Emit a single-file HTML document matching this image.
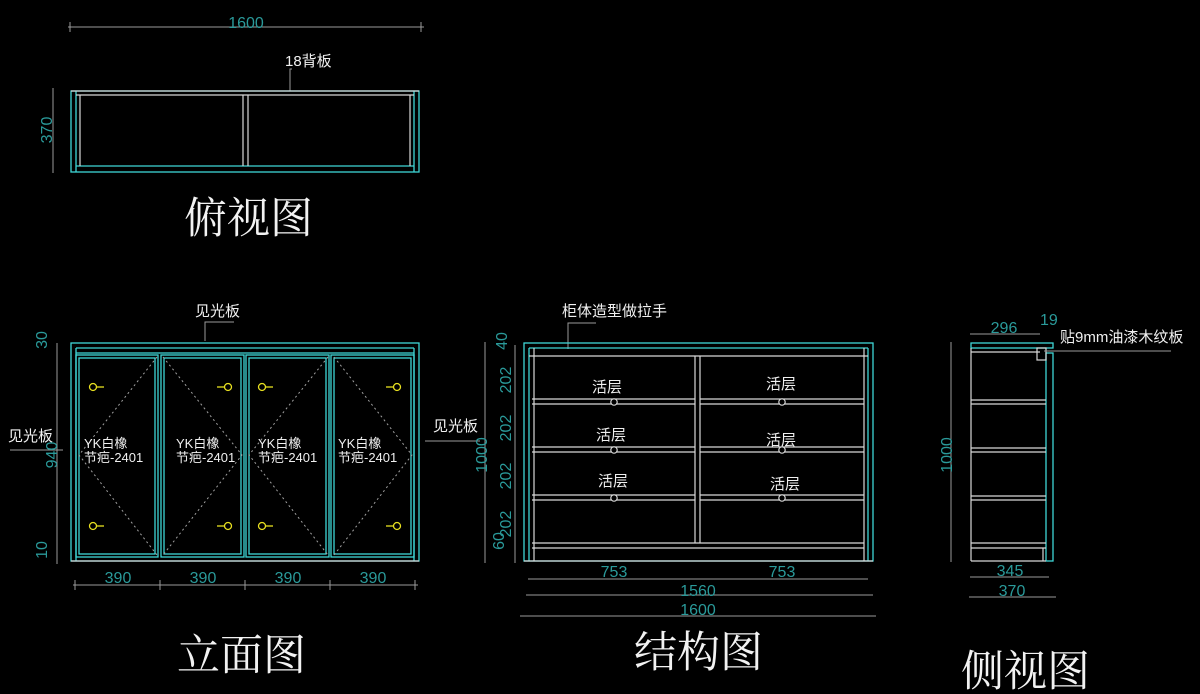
<!DOCTYPE html>
<html><head><meta charset="utf-8"><style>
html,body{margin:0;padding:0;background:#000;}
svg{display:block;}
.c{stroke:#3fd6d6;fill:none;stroke-width:1.3}
.w{stroke:#d8d8d8;fill:none;stroke-width:1.2}
.g{stroke:#9a9a9a;fill:none;stroke-width:1}
.d{fill:#2a9a9a;font-family:"Liberation Sans Narrow","Liberation Sans",sans-serif;font-size:16px}
.t{fill:#f0f0f0;font-family:"Liberation Sans","Noto Sans CJK SC",sans-serif;font-size:15px}
.ti{fill:#f2f2f2;font-family:"Noto Serif CJK SC","Liberation Serif",serif;font-size:43px}
.y{stroke:#e8e020;fill:none;stroke-width:1.3}
.dash{stroke:#a0a0a0;stroke-dasharray:2 3;fill:none;stroke-width:1}
</style></head><body>
<svg width="1200" height="694" viewBox="0 0 1200 694" xmlns="http://www.w3.org/2000/svg">
<!-- TOP VIEW -->
<line class="g" x1="68" y1="27" x2="424" y2="27"/>
<line class="g" x1="70" y1="22" x2="70" y2="32"/><line class="g" x1="421" y1="22" x2="421" y2="32"/>
<text class="d" x="246" y="28" text-anchor="middle">1600</text>
<text class="t" x="285" y="66">18背板</text>
<polyline class="g" points="292,69 290,69 290,91"/>
<rect class="c" x="71" y="91" width="348" height="81"/>
<line class="c" x1="76" y1="91" x2="76" y2="172"/><line class="c" x1="414" y1="91" x2="414" y2="172"/>
<line class="c" x1="76" y1="166" x2="414" y2="166"/>
<line class="w" x1="71" y1="91" x2="419" y2="91"/>
<line class="w" x1="76" y1="95" x2="414" y2="95"/>
<line class="w" x1="80" y1="95" x2="80" y2="166"/><line class="w" x1="410" y1="95" x2="410" y2="166"/>
<line class="w" x1="243" y1="95" x2="243" y2="166"/><line class="w" x1="248" y1="95" x2="248" y2="166"/>
<line class="g" x1="53" y1="88" x2="53" y2="173"/>
<text class="d" transform="translate(52,130) rotate(-90)" text-anchor="middle">370</text>
<text class="ti" x="184" y="233">俯视图</text>

<!-- ELEVATION -->
<text class="t" x="195" y="316">见光板</text>
<polyline class="g" points="234,322 205,322 205,341"/>
<rect class="c" x="71" y="343" width="348" height="218"/>
<line class="c" x1="76" y1="348" x2="414" y2="348"/>
<line class="c" x1="76" y1="348" x2="76" y2="561"/><line class="c" x1="414" y1="348" x2="414" y2="561"/>
<line class="c" x1="76" y1="353" x2="414" y2="353"/>
<line class="w" x1="71" y1="561" x2="419" y2="561"/>
<g>
<rect class="c" x="76" y="355" width="82" height="202"/><rect class="c" x="79" y="358" width="76" height="196"/>
<rect class="c" x="161" y="355" width="83" height="202"/><rect class="c" x="164" y="358" width="77" height="196"/>
<rect class="c" x="246" y="355" width="83" height="202"/><rect class="c" x="249" y="358" width="77" height="196"/>
<rect class="c" x="331" y="355" width="83" height="202"/><rect class="c" x="334" y="358" width="77" height="196"/>
</g>
<polyline class="dash" points="157,357 79,455 157,555"/>
<polyline class="dash" points="163,357 242,455 163,555"/>
<polyline class="dash" points="328,357 249,455 328,555"/>
<polyline class="dash" points="334,357 412,455 334,555"/>
<g>
<circle class="y" cx="93" cy="387" r="3.5"/><line class="y" x1="96" y1="387" x2="104" y2="387"/>
<circle class="y" cx="93" cy="526" r="3.5"/><line class="y" x1="96" y1="526" x2="104" y2="526"/>
<circle class="y" cx="228" cy="387" r="3.5"/><line class="y" x1="217" y1="387" x2="225" y2="387"/>
<circle class="y" cx="228" cy="526" r="3.5"/><line class="y" x1="217" y1="526" x2="225" y2="526"/>
<circle class="y" cx="262" cy="387" r="3.5"/><line class="y" x1="265" y1="387" x2="273" y2="387"/>
<circle class="y" cx="262" cy="526" r="3.5"/><line class="y" x1="265" y1="526" x2="273" y2="526"/>
<circle class="y" cx="397" cy="387" r="3.5"/><line class="y" x1="386" y1="387" x2="394" y2="387"/>
<circle class="y" cx="397" cy="526" r="3.5"/><line class="y" x1="386" y1="526" x2="394" y2="526"/>
</g>
<g class="t" style="font-size:13px">
<text x="84" y="448">YK白橡</text><text x="84" y="462">节疤-2401</text>
<text x="176" y="448">YK白橡</text><text x="176" y="462">节疤-2401</text>
<text x="258" y="448">YK白橡</text><text x="258" y="462">节疤-2401</text>
<text x="338" y="448">YK白橡</text><text x="338" y="462">节疤-2401</text>
</g>
<text class="t" x="8" y="441">见光板</text>
<line class="g" x1="10" y1="450" x2="63" y2="450"/>
<text class="t" x="433" y="431">见光板</text>
<line class="g" x1="425" y1="441" x2="480" y2="441"/>
<line class="g" x1="57" y1="343" x2="57" y2="564"/>
<text class="d" transform="translate(47,340) rotate(-90)" text-anchor="middle">30</text>
<text class="d" transform="translate(57,455) rotate(-90)" text-anchor="middle">940</text>
<text class="d" transform="translate(47,550) rotate(-90)" text-anchor="middle">10</text>
<line class="g" x1="73" y1="585" x2="418" y2="585"/>
<line class="g" x1="75" y1="580" x2="75" y2="590"/><line class="g" x1="160" y1="580" x2="160" y2="590"/>
<line class="g" x1="245" y1="580" x2="245" y2="590"/><line class="g" x1="330" y1="580" x2="330" y2="590"/><line class="g" x1="415" y1="580" x2="415" y2="590"/>
<text class="d" x="118" y="583" text-anchor="middle">390</text>
<text class="d" x="203" y="583" text-anchor="middle">390</text>
<text class="d" x="288" y="583" text-anchor="middle">390</text>
<text class="d" x="373" y="583" text-anchor="middle">390</text>
<text class="ti" x="177" y="670">立面图</text>

<!-- STRUCTURE -->
<text class="t" x="562" y="316">柜体造型做拉手</text>
<polyline class="g" points="596,323 568,323 568,349"/>
<rect class="c" x="524" y="343" width="349" height="218"/>
<line class="c" x1="529" y1="348" x2="868" y2="348"/>
<line class="c" x1="529" y1="348" x2="529" y2="561"/><line class="c" x1="868" y1="348" x2="868" y2="561"/>
<line class="w" x1="534" y1="348" x2="534" y2="561"/><line class="w" x1="864" y1="348" x2="864" y2="561"/>
<line class="w" x1="529" y1="356" x2="868" y2="356"/>
<line class="w" x1="695" y1="356" x2="695" y2="543"/><line class="w" x1="700" y1="356" x2="700" y2="543"/>
<g class="w">
<line x1="532" y1="399" x2="695" y2="399"/><line x1="532" y1="404" x2="695" y2="404"/>
<line x1="700" y1="399" x2="864" y2="399"/><line x1="700" y1="404" x2="864" y2="404"/>
<line x1="532" y1="447" x2="695" y2="447"/><line x1="532" y1="452" x2="695" y2="452"/>
<line x1="700" y1="447" x2="864" y2="447"/><line x1="700" y1="452" x2="864" y2="452"/>
<line x1="532" y1="495" x2="695" y2="495"/><line x1="532" y1="500" x2="695" y2="500"/>
<line x1="700" y1="495" x2="864" y2="495"/><line x1="700" y1="500" x2="864" y2="500"/>
<line x1="532" y1="543" x2="864" y2="543"/><line x1="532" y1="548" x2="864" y2="548"/>
<line x1="524" y1="561" x2="873" y2="561"/>
<circle cx="614" cy="402" r="3.2" style="fill:#000"/><circle cx="782" cy="402" r="3.2" style="fill:#000"/>
<circle cx="614" cy="450" r="3.2" style="fill:#000"/><circle cx="782" cy="450" r="3.2" style="fill:#000"/>
<circle cx="614" cy="498" r="3.2" style="fill:#000"/><circle cx="782" cy="498" r="3.2" style="fill:#000"/>
</g>
<g class="t">
<text x="592" y="392">活层</text><text x="766" y="389">活层</text>
<text x="596" y="440">活层</text><text x="766" y="445">活层</text>
<text x="598" y="486">活层</text><text x="770" y="489">活层</text>
</g>
<line class="g" x1="485" y1="342" x2="485" y2="563"/>
<text class="d" transform="translate(487,455) rotate(-90)" text-anchor="middle">1000</text>
<line class="g" x1="515" y1="345" x2="515" y2="563"/>
<text class="d" transform="translate(507,341) rotate(-90)" text-anchor="middle">40</text>
<text class="d" transform="translate(511,380) rotate(-90)" text-anchor="middle">202</text>
<text class="d" transform="translate(511,428) rotate(-90)" text-anchor="middle">202</text>
<text class="d" transform="translate(511,476) rotate(-90)" text-anchor="middle">202</text>
<text class="d" transform="translate(511,524) rotate(-90)" text-anchor="middle">202</text>
<text class="d" transform="translate(504,541) rotate(-90)" text-anchor="middle">60</text>
<line class="g" x1="528" y1="579" x2="868" y2="579"/>
<text class="d" x="614" y="577" text-anchor="middle">753</text>
<text class="d" x="782" y="577" text-anchor="middle">753</text>
<line class="g" x1="526" y1="595" x2="873" y2="595"/>
<text class="d" x="698" y="596" text-anchor="middle">1560</text>
<line class="g" x1="520" y1="616" x2="876" y2="616"/>
<text class="d" x="698" y="615" text-anchor="middle">1600</text>
<text class="ti" x="634" y="667">结构图</text>

<!-- SIDE -->
<rect class="c" x="971" y="343" width="82" height="5"/>
<rect class="c" x="1046" y="353" width="7" height="208"/>
<g class="w">
<line x1="971" y1="348" x2="971" y2="561"/><line x1="971" y1="561" x2="1046" y2="561"/>
<line x1="971" y1="352" x2="1040" y2="352"/>
<rect x="1037" y="348" width="9" height="12"/>
<line x1="971" y1="400" x2="1046" y2="400"/><line x1="971" y1="404" x2="1046" y2="404"/>
<line x1="971" y1="448" x2="1046" y2="448"/><line x1="971" y1="452" x2="1046" y2="452"/>
<line x1="971" y1="496" x2="1046" y2="496"/><line x1="971" y1="500" x2="1046" y2="500"/>
<line x1="971" y1="543" x2="1046" y2="543"/><line x1="971" y1="548" x2="1046" y2="548"/>
<line x1="1043" y1="548" x2="1043" y2="561"/>
</g>
<line class="g" x1="970" y1="334" x2="1040" y2="334"/>
<text class="d" x="1004" y="333" text-anchor="middle">296</text>
<text class="d" x="1040" y="325">19</text>
<text class="t" x="1060" y="342">贴9mm油漆木纹板</text>
<line class="g" x1="1044" y1="351" x2="1171" y2="351"/>
<line class="g" x1="951" y1="342" x2="951" y2="562"/>
<text class="d" transform="translate(952,455) rotate(-90)" text-anchor="middle">1000</text>
<line class="g" x1="970" y1="577" x2="1049" y2="577"/>
<text class="d" x="1010" y="576" text-anchor="middle">345</text>
<line class="g" x1="969" y1="597" x2="1056" y2="597"/>
<text class="d" x="1012" y="596" text-anchor="middle">370</text>
<text class="ti" x="961" y="686">侧视图</text>
</svg>
</body></html>
